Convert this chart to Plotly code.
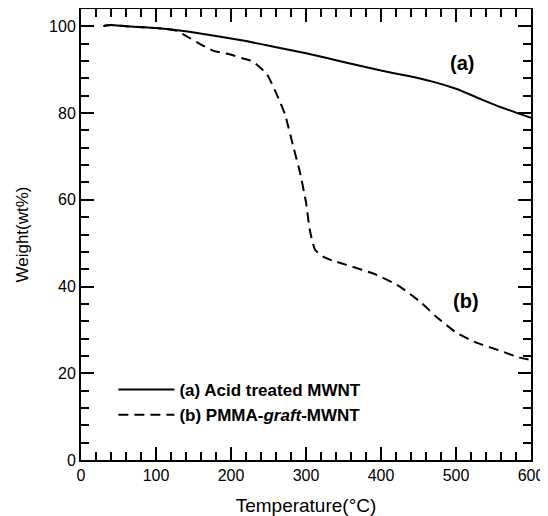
import plotly.graph_objects as go

# Curve (a): acid treated MWNT
temp_a = [30, 40, 60, 100, 134, 180, 220, 257, 300, 347, 400, 435, 470, 500, 532, 559, 600]
wt_a = [100.1, 100.3, 100.0, 99.6, 99.0, 97.8, 96.6, 95.3, 93.8, 91.9, 89.8, 88.6, 87.2, 85.6, 83.3, 81.4, 78.9]

# Curve (b): PMMA-graft-MWNT
temp_b = [30, 40, 60, 100, 125, 141, 160, 176, 199, 216, 229, 248, 261, 272, 283, 292, 300, 305, 312, 323,
          335, 354, 394, 425, 452, 474, 501, 528, 559, 585, 600]
wt_b = [100.1, 100.3, 100.0, 99.6, 99.1, 97.7, 95.8, 94.4, 93.5, 92.6, 91.9, 88.9, 84.3, 79.7, 72.3, 66.3, 59.4, 53.1,
        48.5, 46.9, 46.0, 45.0, 42.7, 40.0, 36.5, 33.0, 29.3, 27.0, 25.2, 23.6, 23.1]

name_a = "<b>(a) Acid treated MWNT</b>"
name_b = "<b>(b) PMMA-<i>graft</i>-MWNT</b>"

x_ticks = [0, 100, 200, 300, 400, 500, 600]
y_ticks = [0, 20, 40, 60, 80, 100]

FONT = "Arial, Liberation Sans, sans-serif"

fig = go.Figure()
fig.add_trace(go.Scatter(x=temp_a, y=wt_a, mode="lines", name=name_a,
                         line=dict(color="black", width=2, shape="spline", smoothing=0.5)))
fig.add_trace(go.Scatter(x=temp_b, y=wt_b, mode="lines", name=name_b,
                         line=dict(color="black", width=2, dash="10px,6px", shape="spline", smoothing=0.5)))

fig.add_annotation(x=508, y=91.5, text="<b>(a)</b>", showarrow=False,
                   font=dict(size=20, family=FONT, color="black"))
fig.add_annotation(x=513, y=36.7, text="<b>(b)</b>", showarrow=False,
                   font=dict(size=20, family=FONT, color="black"))

axis_common = dict(
    showline=True, linecolor="black", linewidth=2, mirror="ticks",
    ticks="inside", ticklen=13, tickwidth=2, tickcolor="black",
    showgrid=False, zeroline=False, automargin=False,
    tickfont=dict(size=16, family=FONT, color="black"),
)

fig.update_xaxes(range=[0, 600], tickvals=x_ticks,
                 title=dict(text="Temperature(°C)", font=dict(size=19, family=FONT, color="black"), standoff=18),
                 minor=dict(dtick=20, ticks="inside", ticklen=8, tickwidth=2, tickcolor="black"),
                 **axis_common)
fig.update_yaxes(range=[0, 104], tickvals=y_ticks,
                 title=dict(text="Weight(wt%)", font=dict(size=17, family=FONT, color="black"), standoff=16),
                 minor=dict(dtick=4, ticks="inside", ticklen=8, tickwidth=2, tickcolor="black"),
                 **axis_common)

# page body has an 8px default margin; size the figure to fit the 548x516 window
fig.update_layout(
    width=540, height=508,
    margin=dict(l=73, r=17, t=1, b=56),
    paper_bgcolor="white", plot_bgcolor="white",
    font=dict(family=FONT, color="black"),
    legend=dict(x=0.072, y=0.195, xanchor="left", yanchor="top",
                font=dict(size=17, family=FONT, color="black"),
                bgcolor="rgba(0,0,0,0)", itemwidth=56, tracegroupgap=0),
    showlegend=True,
)

fig.write_html("out.html")
